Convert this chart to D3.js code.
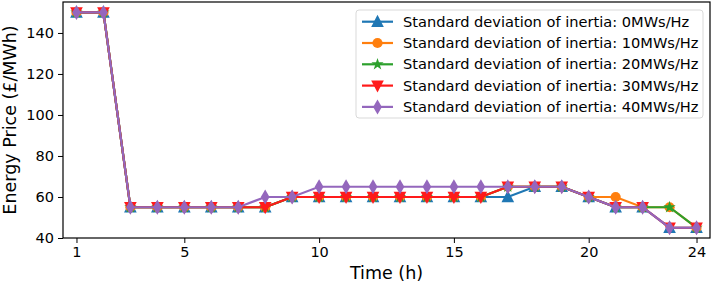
<!DOCTYPE html>
<html>
<head>
<meta charset="utf-8">
<script src="https://cdn.jsdelivr.net/npm/d3@7"></script>
<style>
body{margin:0;background:#fff;}
text{font-family:"DejaVu Sans",sans-serif;fill:#000;}
</style>
</head>
<body>
<svg id="chart" width="713" height="287"></svg>
<script>
const hours = d3.range(1, 25);
const seriesNames = [
  "Standard deviation of inertia: 0MWs/Hz",
  "Standard deviation of inertia: 10MWs/Hz",
  "Standard deviation of inertia: 20MWs/Hz",
  "Standard deviation of inertia: 30MWs/Hz",
  "Standard deviation of inertia: 40MWs/Hz"
];
const sd0  = [150,150,55,55,55,55,55,55,60,60,60,60,60,60,60,60,60,65,65,60,55,55,45,45];
const sd10 = [150,150,55,55,55,55,55,55,60,60,60,60,60,60,60,60,65,65,65,60,60,55,55,45];
const sd20 = [150,150,55,55,55,55,55,55,60,60,60,60,60,60,60,60,65,65,65,60,55,55,55,45];
const sd30 = [150,150,55,55,55,55,55,55,60,60,60,60,60,60,60,60,65,65,65,60,55,55,45,45];
const sd40 = [150,150,55,55,55,55,55,60,60,65,65,65,65,65,65,65,65,65,65,60,55,55,45,45];
const xTicks = [1,5,10,15,20,24];
const yTicks = [40,60,80,100,120,140];
const colors = ["#1f77b4","#ff7f0e","#2ca02c","#ff1a1a","#9467bd"];
const markers = ["triangle","circle","star","triangleDown","diamond"];
const allSeries = [sd0, sd10, sd20, sd30, sd40];

const svg = d3.select("#chart");
const L = 63, R = 710, T = 2, B = 238;
const x = d3.scaleLinear().domain([0.5, 24.5]).range([L, R]);
const y = d3.scaleLinear().domain([40, 155.1]).range([B, T]);

function markerPath(type, size) {
  const s = size;
  switch (type) {
    case "triangle": return `M0,${-s*0.6}L${s*0.55},${s*0.45}L${-s*0.55},${s*0.45}Z`;
    case "triangleDown": return `M0,${s*0.6}L${s*0.55},${-s*0.45}L${-s*0.55},${-s*0.45}Z`;
    case "circle": return d3.symbol(d3.symbolCircle, s*s*0.62)();
    case "star": return d3.symbol(d3.symbolStar, s*s*0.35)();
    case "diamond": return `M0,${-s*0.65}L${s*0.38},0L0,${s*0.65}L${-s*0.38},0Z`;
  }
}

// axes
const xAxis = d3.axisBottom(x).tickValues(xTicks).tickSize(5).tickPadding(4);
const yAxis = d3.axisLeft(y).tickValues(yTicks).tickSize(5).tickPadding(4);
const gx = svg.append("g").attr("transform", `translate(0,${B})`).call(xAxis);
const gy = svg.append("g").attr("transform", `translate(${L},0)`).call(yAxis);
[gx, gy].forEach(g => {
  g.select(".domain").remove();
  g.selectAll("text").style("font-size", "14.5px").style("font-family", "DejaVu Sans");
  g.selectAll("line").attr("stroke", "#000").attr("stroke-width", 1);
});

svg.append("defs").append("clipPath").attr("id", "clip")
  .append("rect").attr("x", L).attr("y", T).attr("width", R - L).attr("height", B - T);

const line = d3.line().x((d, i) => x(hours[i])).y(d => y(d));
const plot = svg.append("g").attr("clip-path", "url(#clip)");
allSeries.forEach((s, k) => {
  plot.append("path").datum(s).attr("d", line).attr("fill", "none")
    .attr("stroke", colors[k]).attr("stroke-width", 2.2);
  plot.selectAll(null).data(s).enter().append("path")
    .attr("transform", (d, i) => `translate(${x(hours[i])},${y(d)})`)
    .attr("d", markerPath(markers[k], 11.5))
    .attr("fill", colors[k]);
});

// frame
svg.append("rect").attr("x", L).attr("y", T).attr("width", R - L).attr("height", B - T)
  .attr("fill", "none").attr("stroke", "#000").attr("stroke-width", 1.2);

// axis labels
svg.append("text").attr("x", (L + R) / 2).attr("y", 279).attr("text-anchor", "middle")
  .style("font-size", "17.5px").text("Time (h)");
svg.append("text").attr("transform", `translate(16,${(T + B) / 2}) rotate(-90)`)
  .attr("text-anchor", "middle").style("font-size", "17.5px").text("Energy Price (£/MWh)");

// legend
const lg = svg.append("g");
lg.append("rect").attr("x", 356).attr("y", 10).attr("width", 347).attr("height", 108)
  .attr("rx", 3).attr("fill", "#fff").attr("fill-opacity", 0.8).attr("stroke", "#d9d9d9");
seriesNames.forEach((n, k) => {
  const yy = 21.7 + k * 21.3;
  lg.append("line").attr("x1", 362).attr("x2", 393).attr("y1", yy).attr("y2", yy)
    .attr("stroke", colors[k]).attr("stroke-width", 2.2);
  lg.append("path").attr("transform", `translate(377.5,${yy})`)
    .attr("d", markerPath(markers[k], 11.5)).attr("fill", colors[k]);
  lg.append("text").attr("x", 403).attr("y", yy).attr("dy", "0.35em")
    .style("font-size", "14.6px").text(n);
});
</script>
</body>
</html>
